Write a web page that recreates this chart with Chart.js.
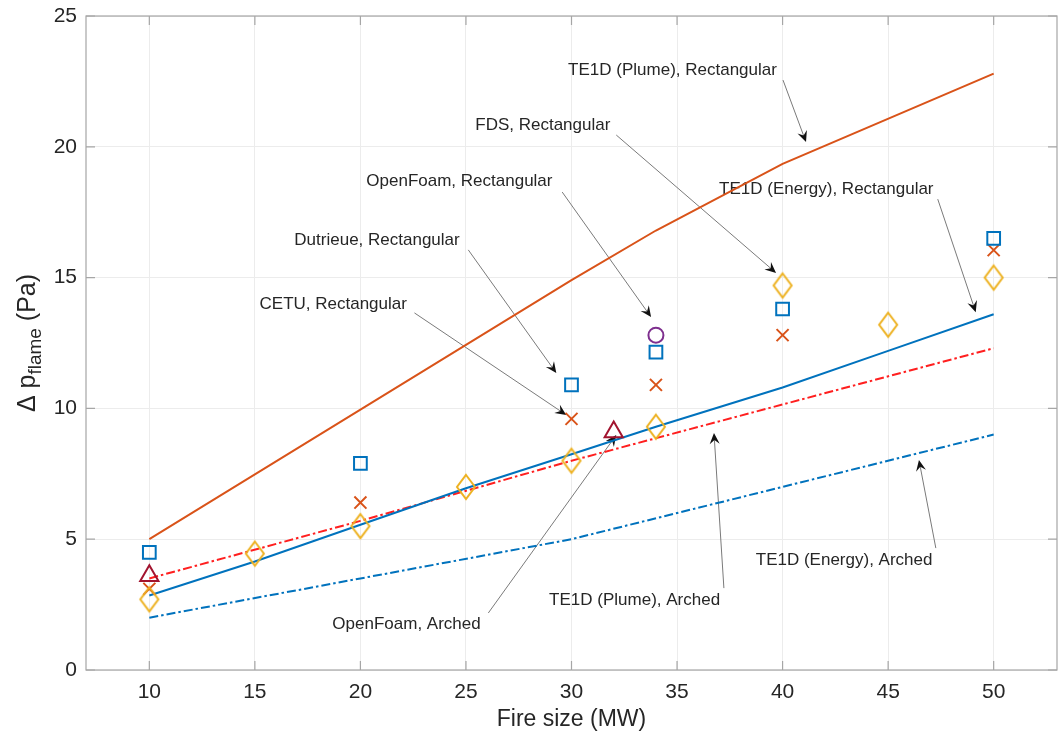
<!DOCTYPE html>
<html>
<head>
<meta charset="utf-8">
<script src="https://cdn.jsdelivr.net/npm/chart.js@4.4.1/dist/chart.umd.min.js"></script>
<style>
  html, body { margin: 0; padding: 0; background: #fff; }
  #wrap { width: 1059px; height: 733px; }
</style>
</head>
<body>
<div id="wrap"><canvas id="flameChart" width="1059" height="733"></canvas></div>
<script>
// ---- DATA ----
const X_TICKS = [10, 15, 20, 25, 30, 35, 40, 45, 50];
const Y_TICKS = [0, 5, 10, 15, 20, 25];

// measurements / CFD markers
const DUTRIEUE_X = [10, 20, 30, 34, 40, 50];
const DUTRIEUE_Y = [4.5, 7.9, 10.9, 12.15, 13.8, 16.5];
const CETU_X = [10, 20, 30, 34, 40, 50];
const CETU_Y = [3.1, 6.4, 9.6, 10.9, 12.8, 16.05];
const FDS_X = [10, 15, 20, 25, 30, 34, 40, 45, 50];
const FDS_Y = [2.7, 4.45, 5.5, 7.0, 8.0, 9.3, 14.7, 13.2, 15.0];
const OF_RECT_X = [34];
const OF_RECT_Y = [12.8];
const OF_ARCH_X = [10, 32];
const OF_ARCH_Y = [3.6, 9.1];

// TE1D model lines
const PLUME_RECT_X = [10, 20, 30, 34, 40, 50];
const PLUME_RECT_Y = [5.0, 9.95, 14.9, 16.8, 19.35, 22.8];
const ENERGY_RECT_X = [10, 15, 20, 25, 30, 34, 40, 45, 50];
const ENERGY_RECT_Y = [2.85, 4.15, 5.55, 6.95, 8.25, 9.3, 10.8, 12.2, 13.6];
const PLUME_ARCH_X = [10, 20, 30, 40, 50];
const PLUME_ARCH_Y = [3.5, 5.7, 8.0, 10.15, 12.3];
const ENERGY_ARCH_X = [10, 20, 30, 40, 50];
const ENERGY_ARCH_Y = [2.0, 3.5, 5.0, 7.0, 9.0];

// text callouts, in data units: label left/middle, arrow tail, arrow head
const NOTES = [
  { text: 'TE1D (Plume), Rectangular', at: [29.84, 22.94], from: [40.02, 22.55], to: [41.11, 20.18] },
  { text: 'FDS, Rectangular', at: [25.44, 20.83], from: [32.12, 20.45], to: [39.69, 15.18] },
  { text: 'OpenFoam, Rectangular', at: [20.28, 18.69], from: [29.56, 18.27], to: [33.77, 13.49] },
  { text: 'TE1D (Energy), Rectangular', at: [36.99, 18.39], from: [47.35, 18.0], to: [49.15, 13.68] },
  { text: 'Dutrieue, Rectangular', at: [16.87, 16.44], from: [25.11, 16.06], to: [29.28, 11.35] },
  { text: 'CETU, Rectangular', at: [15.22, 13.99], from: [22.56, 13.65], to: [29.75, 9.75] },
  { text: 'OpenFoam, Arched', at: [18.67, 1.76], from: [26.06, 2.18], to: [32.12, 8.98] },
  { text: 'TE1D (Plume), Arched', at: [28.94, 2.68], from: [37.22, 3.13], to: [36.75, 9.06] },
  { text: 'TE1D (Energy), Arched', at: [38.73, 4.20], from: [47.26, 4.66], to: [46.46, 8.03] }
];

const FONT = "'Liberation Sans', Arial, Helvetica, sans-serif";
const INK = '#262626';

function pts(xs, ys) {
  return xs.map((x, i) => ({ x: x, y: ys[i] }));
}

// taller-than-wide diamond, like matlab's 'd'
function diamond(color, w, h, lw) {
  const c = document.createElement('canvas');
  c.width = w + lw * 2 + 2;
  c.height = h + lw * 2 + 2;
  const g = c.getContext('2d');
  const cx = c.width / 2, cy = c.height / 2;
  g.strokeStyle = color;
  g.lineWidth = lw;
  g.beginPath();
  g.moveTo(cx, cy - h / 2);
  g.lineTo(cx + w / 2, cy);
  g.lineTo(cx, cy + h / 2);
  g.lineTo(cx - w / 2, cy);
  g.closePath();
  g.stroke();
  return c;
}

function marker(data, style, color, radius) {
  return {
    data: data,
    showLine: false,
    pointStyle: style,
    pointRadius: radius,
    pointBorderColor: color,
    pointBackgroundColor: 'rgba(0,0,0,0)',
    pointBorderWidth: 2
  };
}

function line(data, color, dash) {
  return {
    data: data,
    showLine: true,
    borderColor: color,
    borderWidth: 2,
    borderDash: dash || [],
    pointRadius: 0,
    fill: false,
    tension: 0
  };
}

const DASHDOT = [9, 3, 2.5, 3];

// frame, inward ticks, axis titles and the arrows
const extras = {
  id: 'extras',
  beforeDatasetsDraw(chart) {
    const ctx = chart.ctx, sx = chart.scales.x, sy = chart.scales.y;
    ctx.save();
    ctx.font = '17px ' + FONT;
    ctx.textBaseline = 'middle';
    NOTES.forEach(n => {
      ctx.fillStyle = INK;
      ctx.fillText(n.text, sx.getPixelForValue(n.at[0]), sy.getPixelForValue(n.at[1]));
      const x0 = sx.getPixelForValue(n.from[0]), y0 = sy.getPixelForValue(n.from[1]);
      const x1 = sx.getPixelForValue(n.to[0]), y1 = sy.getPixelForValue(n.to[1]);
      const a = Math.atan2(y1 - y0, x1 - x0);
      ctx.strokeStyle = '#7a7a7a';
      ctx.lineWidth = 1;
      ctx.beginPath();
      ctx.moveTo(x0, y0);
      ctx.lineTo(x1 - Math.cos(a) * 6, y1 - Math.sin(a) * 6);
      ctx.stroke();
      // notched head
      ctx.save();
      ctx.translate(x1, y1);
      ctx.rotate(a);
      ctx.fillStyle = '#111';
      ctx.beginPath();
      ctx.moveTo(0, 0);
      ctx.lineTo(-11, -5);
      ctx.lineTo(-7, 0);
      ctx.lineTo(-11, 5);
      ctx.closePath();
      ctx.fill();
      ctx.restore();
    });
    ctx.restore();
  },
  afterDraw(chart) {
    const ctx = chart.ctx, a = chart.chartArea;
    const sx = chart.scales.x, sy = chart.scales.y;
    ctx.save();
    ctx.strokeStyle = '#a6a6a6';
    ctx.lineWidth = 1.2;
    ctx.strokeRect(a.left, a.top, a.right - a.left, a.bottom - a.top);
    ctx.beginPath();
    X_TICKS.forEach(v => {
      const px = sx.getPixelForValue(v);
      ctx.moveTo(px, a.bottom); ctx.lineTo(px, a.bottom - 9);
      ctx.moveTo(px, a.top); ctx.lineTo(px, a.top + 9);
    });
    Y_TICKS.forEach(v => {
      const py = sy.getPixelForValue(v);
      ctx.moveTo(a.left, py); ctx.lineTo(a.left + 9, py);
      ctx.moveTo(a.right, py); ctx.lineTo(a.right - 9, py);
    });
    ctx.stroke();

    // x title
    ctx.fillStyle = INK;
    ctx.font = '23px ' + FONT;
    ctx.textAlign = 'center';
    ctx.textBaseline = 'alphabetic';
    ctx.fillText('Fire size (MW)', (a.left + a.right) / 2, 726);

    // y title with subscript
    ctx.translate(35, (a.top + a.bottom) / 2);
    ctx.rotate(-Math.PI / 2);
    ctx.textAlign = 'left';
    const big = '25px ' + FONT, small = '19px ' + FONT;
    const p1 = '\u0394 p', sub = 'flame', p2 = ' (Pa)';
    ctx.font = big; const w1 = ctx.measureText(p1).width, w3 = ctx.measureText(p2).width;
    ctx.font = small; const w2 = ctx.measureText(sub).width;
    let cx = -(w1 + w2 + w3) / 2;
    ctx.font = big; ctx.fillText(p1, cx, 0); cx += w1;
    ctx.font = small; ctx.fillText(sub, cx, 6); cx += w2;
    ctx.font = big; ctx.fillText(p2, cx, 0);
    ctx.restore();
  }
};

const ctx = document.getElementById('flameChart');
const flameChart = new Chart(ctx, {
  type: 'scatter',
  data: {
    datasets: [
      marker(pts(OF_RECT_X, OF_RECT_Y), 'circle', '#7E2F8E', 7.5),
      marker(pts(OF_ARCH_X, OF_ARCH_Y), 'triangle', '#A2142F', 10.5),
      marker(pts(FDS_X, FDS_Y), diamond('#EDB120', 18, 24, 2), '#EDB120', 10),
      marker(pts(DUTRIEUE_X, DUTRIEUE_Y), 'rect', '#0072BD', 9),
      marker(pts(CETU_X, CETU_Y), 'crossRot', '#D95319', 8.5),
      line(pts(PLUME_RECT_X, PLUME_RECT_Y), '#D95319'),
      line(pts(ENERGY_RECT_X, ENERGY_RECT_Y), '#0072BD'),
      line(pts(PLUME_ARCH_X, PLUME_ARCH_Y), '#FF1F1F', DASHDOT),
      line(pts(ENERGY_ARCH_X, ENERGY_ARCH_Y), '#0072BD', DASHDOT)
    ]
  },
  options: {
    responsive: false,
    animation: false,
    events: [],
    layout: { autoPadding: false, padding: { top: 16, right: 2, left: 0, bottom: 0 } },
    plugins: {
      legend: { display: false },
      tooltip: { enabled: false }
    },
    scales: {
      x: {
        type: 'linear',
        min: 7,
        max: 53,
        afterBuildTicks: s => { s.ticks = X_TICKS.map(v => ({ value: v })); },
        afterFit: s => { s.height = 63; s.paddingLeft = 0; s.paddingRight = 0; },
        grid: { color: '#ececec', lineWidth: 1, drawTicks: false },
        border: { display: false },
        ticks: { color: INK, font: { family: FONT, size: 21 }, padding: 10, maxRotation: 0, autoSkip: false }
      },
      y: {
        type: 'linear',
        min: 0,
        max: 25,
        afterBuildTicks: s => { s.ticks = Y_TICKS.map(v => ({ value: v })); },
        afterFit: s => { s.width = 86; s.paddingTop = 0; s.paddingBottom = 0; },
        grid: { color: '#ececec', lineWidth: 1, drawTicks: false },
        border: { display: false },
        ticks: { color: INK, font: { family: FONT, size: 21 }, padding: 9 }
      }
    }
  },
  plugins: [extras]
});
</script>
</body>
</html>
